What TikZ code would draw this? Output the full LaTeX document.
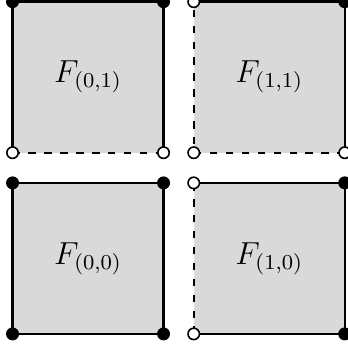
\documentclass[tikz,border=0pt]{standalone}
\usepackage{amsmath}
\usepackage{tikz}
\usetikzlibrary{positioning}

\begin{document}
\begin{tikzpicture}[
    face/.style={fill=gray!30},
    edge/.style={line width=0.9pt},
    gapedge/.style={line width=0.9pt, dash pattern=on 2.8pt off 3.2pt},
    fulldot/.style={circle, fill=black, inner sep=0pt, minimum size=4.9pt},
    holedot/.style={circle, draw=black, fill=white, line width=0.6pt, inner sep=0pt, minimum size=4.3pt},
    every node/.style={font=\large}]
    \useasboundingbox (-0.166,-0.2) rectangle (4.43,4.4225);

    % Corners
    \coordinate (a-sw) at (0,0);     \coordinate (a-se) at (2,0);
    \coordinate (a-ne) at (2,2);     \coordinate (a-nw) at (0,2);
    \coordinate (b-sw) at (2.4,0);   \coordinate (b-se) at (4.4,0);
    \coordinate (b-ne) at (4.4,2);   \coordinate (b-nw) at (2.4,2);
    \coordinate (c-sw) at (0,2.4);   \coordinate (c-se) at (2,2.4);
    \coordinate (c-ne) at (2,4.4);   \coordinate (c-nw) at (0,4.4);
    \coordinate (d-sw) at (2.4,2.4); \coordinate (d-se) at (4.4,2.4);
    \coordinate (d-ne) at (4.4,4.4); \coordinate (d-nw) at (2.4,4.4);

    % Faces
    \fill[face] (a-sw) rectangle (a-ne);
    \fill[face] (b-sw) rectangle (b-ne);
    \fill[face] (c-sw) rectangle (c-ne);
    \fill[face] (d-sw) rectangle (d-ne);

    \node (fa) at (1,1) {$F_{(0,0)}$};
    \node (fb) at (3.4,1) {$F_{(1,0)}$};
    \node (fc) at (1,3.4) {$F_{(0,1)}$};
    \node (fd) at (3.4,3.4) {$F_{(1,1)}$};

    % F(0,0)
    \draw[edge] (a-sw) -- (a-se) -- (a-ne) -- (a-nw) -- cycle;

    % F(1,0)
    \draw[edge] (b-nw) -- (b-ne) -- (b-se) -- (b-sw);
    \draw[gapedge] (b-sw) -- (b-nw);

    % F(0,1)
    \draw[edge] (c-sw) -- (c-nw) -- (c-ne) -- (c-se);
    \draw[gapedge] (c-sw) -- (c-se);

    % F(1,1)
    \draw[edge] (d-nw) -- (d-ne) -- (d-se);
    \draw[gapedge] (d-se) -- (d-sw) -- (d-nw);

    % Dots
    \node[fulldot] (da1) at (a-sw) {};
    \node[fulldot] (da2) at (a-se) {};
    \node[fulldot] (da3) at (a-ne) {};
    \node[fulldot] (da4) at (a-nw) {};
    \node[holedot] (db1) at (b-sw) {};
    \node[fulldot] (db2) at (b-se) {};
    \node[fulldot] (db3) at (b-ne) {};
    \node[holedot] (db4) at (b-nw) {};
    \node[holedot] (dc1) at (c-sw) {};
    \node[holedot] (dc2) at (c-se) {};
    \node[fulldot] (dc3) at (c-ne) {};
    \node[fulldot] (dc4) at (c-nw) {};
    \node[holedot] (dd1) at (d-sw) {};
    \node[holedot] (dd2) at (d-se) {};
    \node[fulldot] (dd3) at (d-ne) {};
    \node[holedot] (dd4) at (d-nw) {};
\end{tikzpicture}
\end{document}
